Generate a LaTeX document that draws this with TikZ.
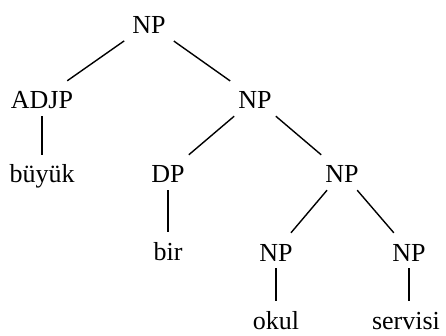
\documentclass[tikz,border=0pt]{standalone}
\usepackage{fontspec}
\setmainfont{Liberation Serif}
\begin{document}
\begin{tikzpicture}[x=1pt,y=-1pt,
  lbl/.style={font=\fontsize{26}{30}\selectfont, text height=21pt, text depth=0pt,
    inner ysep=7pt, inner xsep=8pt, anchor=base},
  edge/.style={draw=black, line width=1.4pt}]
\useasboundingbox (0,0) rectangle (446,336);
\node[lbl] (np1) at (149,34) {NP};
\node[lbl] (adjp) at (42,109) {ADJP};
\node[lbl] (np2) at (255,109) {NP};
\node[lbl] (buyuk) at (42,183) {büyük};
\node[lbl] (dp) at (168,183) {DP};
\node[lbl] (np3) at (342,183) {NP};
\node[lbl] (bir) at (168,260) {bir};
\node[lbl] (np4) at (276,261) {NP};
\node[lbl] (np5) at (409,261) {NP};
\node[lbl] (okul) at (276,329) {okul};
\node[lbl] (servisi) at (406,329) {servisi};
\draw[edge] (np1) -- (adjp);
\draw[edge] (np1) -- (np2);
\draw[edge] (adjp) -- (buyuk);
\draw[edge] (np2) -- (dp);
\draw[edge] (np2) -- (np3);
\draw[edge] (dp) -- (bir);
\draw[edge] (np3) -- (np4);
\draw[edge] (np3) -- (np5);
\draw[edge] (np4) -- (okul);
\draw[edge] (np5.south) -- (servisi.north -| np5.south);
\end{tikzpicture}
\end{document}
